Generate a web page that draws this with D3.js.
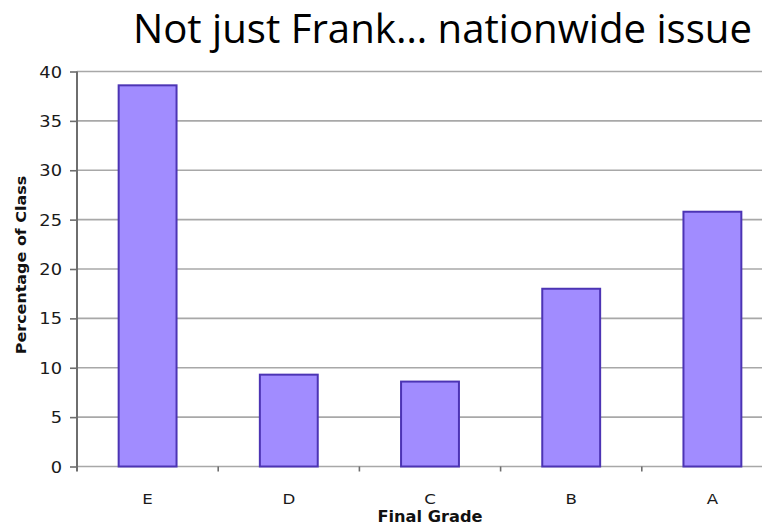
<!DOCTYPE html>
<html><head><meta charset="utf-8">
<script src="https://cdn.jsdelivr.net/npm/d3@7"></script>
<style>body{margin:0;background:#fff}svg{display:block}</style>
</head><body>
<script>
const categories = ["E","D","C","B","A"];
const values = [38.6, 9.3, 8.6, 18.0, 25.8];
const yTicks = [0,5,10,15,20,25,30,35,40];
const title = "Not just Frank\u2026 nationwide issue";
const xTitle = "Final Grade";
const yTitle = "Percentage of Class";

const W = 762, H = 525;
const FONT = "DejaVu Sans, Verdana, sans-serif";
const SX = 1.15; // horizontal stretch of the axis texts
const svg = d3.select("body").append("svg").attr("width", W).attr("height", H);

const x0 = 77, x1 = 783;
const x = d3.scaleBand().domain(categories).range([x0, x1]).paddingInner(0.59).paddingOuter(0.295);
const y = d3.scaleLinear().domain([0, 40]).range([466.5, 71.5]);

// gridlines
svg.append("g").selectAll("line").data(yTicks).join("line")
  .attr("x1", x0).attr("x2", W).attr("y1", d => y(d)).attr("y2", d => y(d))
  .attr("stroke", "#a8a8a8").attr("stroke-width", 1.7);

// bars
svg.append("g").selectAll("rect").data(categories).join("rect")
  .attr("x", d => x(d)).attr("width", x.bandwidth())
  .attr("y", (d,i) => y(values[i])).attr("height", (d,i) => y(0) - y(values[i]))
  .attr("fill", "#a18cff").attr("stroke", "#4c34b4").attr("stroke-width", 2);

// y axis
const yAxis = d3.axisLeft(y).tickValues(yTicks).tickSize(7).tickPadding(7);
const gy = svg.append("g").attr("transform", `translate(${x0},0)`).call(yAxis);
gy.select(".domain").attr("stroke", "#6e6e6e").attr("stroke-width", 2).attr("d", `M-0,${y(40)}V${y(0)+5}`);
gy.selectAll(".tick line").attr("stroke", "#6e6e6e").attr("stroke-width", 1.6);
gy.selectAll(".tick text").attr("font-family", FONT).attr("font-size", 15.5).attr("fill", "#1a1a1a")
  .attr("x", 0).attr("dy", null).attr("y", 5.5)
  .attr("transform", `translate(-15,0) scale(${SX},1)`);

// x axis (ticks at category boundaries)
const gx = svg.append("g").attr("transform", `translate(0,${y(0)})`);
gx.selectAll("line").data(categories.slice(1)).join("line")
  .attr("x1", d => x(d) - x.step()*x.paddingInner()/2).attr("x2", d => x(d) - x.step()*x.paddingInner()/2)
  .attr("y1", 0).attr("y2", 5).attr("stroke", "#6e6e6e").attr("stroke-width", 1.6);
gx.selectAll("text").data(categories).join("text")
  .attr("transform", d => `translate(${x(d) + x.bandwidth()/2},37.5) scale(${SX},1)`)
  .attr("text-anchor", "middle").attr("font-family", FONT)
  .attr("font-size", 14.5).attr("fill", "#1a1a1a").text(d => d);

// axis titles
svg.append("text").attr("transform", `translate(430,522) scale(1.08,1)`).attr("text-anchor", "middle")
  .attr("font-family", FONT).attr("font-weight", "bold")
  .attr("font-size", 15).attr("fill", "#111").text(xTitle);
svg.append("text").attr("transform", "translate(26,265) rotate(-90) scale(1.1,1)").attr("text-anchor", "middle")
  .attr("font-family", FONT).attr("font-weight", "bold")
  .attr("font-size", 14.5).attr("fill", "#111").text(yTitle);

// title
svg.append("text").attr("x", 133).attr("y", 43)
  .attr("font-family", "Liberation Sans Narrow, Open Sans, sans-serif")
  .attr("font-size", 40).attr("fill", "#000")
  .attr("textLength", 619).attr("lengthAdjust", "spacingAndGlyphs").text(title);
</script>
</body></html>
